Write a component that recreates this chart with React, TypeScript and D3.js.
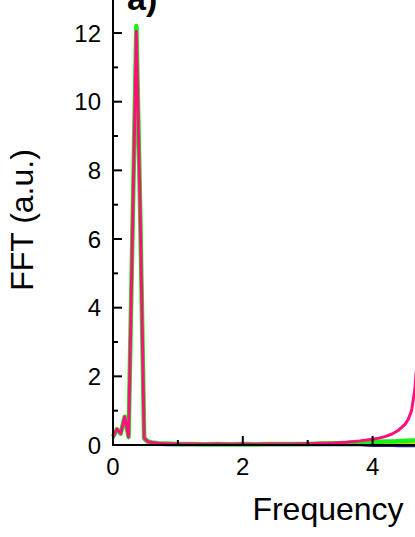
import React from "react";
import * as d3 from "d3";

const freq = [0, 0.06, 0.12, 0.18, 0.24, 0.3, 0.36, 0.42, 0.48, 0.54, 0.6, 0.7, 0.85, 1.0, 1.2, 1.4, 1.6, 1.8, 2.0, 2.2, 2.4, 2.6, 2.8, 3.0, 3.2, 3.4, 3.6, 3.8, 4.0, 4.1, 4.2, 4.3, 4.4, 4.5, 4.55, 4.6, 4.65, 4.7, 4.75];

const pinkValues = [0.24, 0.46, 0.34, 0.82, 0.24, 6.2, 12.05, 6.7, 0.2, 0.1, 0.07, 0.05, 0.04, 0.03, 0.03, 0.02, 0.03, 0.02, 0.03, 0.02, 0.03, 0.03, 0.03, 0.04, 0.05, 0.06, 0.08, 0.12, 0.17, 0.2, 0.25, 0.32, 0.43, 0.6, 0.75, 1.0, 1.6, 2.8, 4.8];

const greenValues = [0.24, 0.46, 0.34, 0.82, 0.24, 6.2, 12.2, 6.7, 0.2, 0.1, 0.07, 0.05, 0.04, 0.03, 0.03, 0.02, 0.03, 0.02, 0.03, 0.02, 0.03, 0.03, 0.03, 0.03, 0.04, 0.05, 0.06, 0.07, 0.08, 0.09, 0.1, 0.1, 0.11, 0.12, 0.12, 0.13, 0.13, 0.14, 0.14];

const yellowValues = [0.22, 0.44, 0.32, 0.8, 0.22, 6.1, 11.9, 6.6, 0.18, 0.08, 0.05, 0.03, 0.02, 0.02, 0.02, 0.01, 0.02, 0.01, 0.02, 0.01, 0.02, 0.02, 0.02, 0.02, 0.02, 0.02, 0.02, 0.03, 0.03, 0.03, 0.03, 0.03, 0.03, 0.04, 0.04, 0.04, 0.04, 0.04, 0.04];

const navyValues = [0.2, 0.42, 0.3, 0.78, 0.2, 6.0, 11.8, 6.5, 0.16, 0.06, 0.03, 0.01, 0.0, 0.0, 0.0, 0.0, 0.0, 0.0, 0.0, 0.0, 0.0, 0.0, 0.0, 0.0, 0.0, 0.0, 0.0, 0.0, -0.02, -0.02, -0.02, -0.02, -0.03, -0.03, -0.03, -0.03, -0.03, -0.03, -0.03];

const xMajorTicks = [0, 2, 4];
const xMinorTicks = [1, 3, 5];
const yMajorTicks = [0, 2, 4, 6, 8, 10, 12];
const yMinorTicks = [1, 3, 5, 7, 9, 11];

const series = [
  { name: "navy", values: navyValues, color: "#1c1c7a", width: 2.5 },
  { name: "yellow", values: yellowValues, color: "#e6e000", width: 3 },
  { name: "green", values: greenValues, color: "#19f019", width: 4.6 },
  { name: "pink", values: pinkValues, color: "#ff0f7b", width: 3 },
];

export default function App() {
  const W = 415;
  const H = 537;
  const x0 = 113;
  const y0 = 445;
  const x = d3.scaleLinear().domain([0, 6]).range([x0, x0 + 64.9 * 6]);
  const y = d3.scaleLinear().domain([0, 13]).range([y0, y0 - 34.33 * 13]);

  const line = d3
    .line<number>()
    .x((_, i) => x(freq[i]))
    .y((d) => y(d));

  const font = "Liberation Sans, Arial, Helvetica, sans-serif";

  return (
    <svg
      width={W}
      height={H}
      style={{ position: "absolute", left: 0, top: 0, background: "#fff" }}
      fontFamily={font}
    >
      <rect x={0} y={0} width={W} height={H} fill="#fff" />
      {series.map((s) => (
        <path
          key={s.name}
          d={line(s.values) || ""}
          fill="none"
          stroke={s.color}
          strokeWidth={s.width}
          strokeLinejoin="round"
        />
      ))}
      <line x1={x0} y1={y0} x2={x0} y2={-5} stroke="#000" strokeWidth={2} />
      <line x1={x0 - 1} y1={y0} x2={W + 5} y2={y0} stroke="#000" strokeWidth={2} />
      {yMajorTicks.map((t) => (
        <g key={"ym" + t}>
          <line x1={x0} x2={x0 + 9} y1={y(t)} y2={y(t)} stroke="#000" strokeWidth={2} />
          <text x={101} y={y(t)} dy="0.36em" textAnchor="end" fontSize={24}>
            {t}
          </text>
        </g>
      ))}
      {yMinorTicks.map((t) => (
        <line key={"yn" + t} x1={x0} x2={x0 + 5} y1={y(t)} y2={y(t)} stroke="#000" strokeWidth={2} />
      ))}
      {xMajorTicks.map((t) => (
        <g key={"xm" + t}>
          <line x1={x(t)} x2={x(t)} y1={y0} y2={y0 - 9} stroke="#000" strokeWidth={2} />
          <text x={x(t)} y={475} textAnchor="middle" fontSize={24}>
            {t}
          </text>
        </g>
      ))}
      {xMinorTicks.map((t) => (
        <line key={"xn" + t} x1={x(t)} x2={x(t)} y1={y0} y2={y0 - 5} stroke="#000" strokeWidth={2} />
      ))}
      <text x={328} y={520} textAnchor="middle" fontSize={32}>
        Frequency
      </text>
      <text
        transform="translate(33,220) rotate(-90)"
        textAnchor="middle"
        fontSize={32}
      >
        FFT (a.u.)
      </text>
      <text x={127} y={10} fontSize={34} fontWeight="bold">
        a)
      </text>
    </svg>
  );
}
